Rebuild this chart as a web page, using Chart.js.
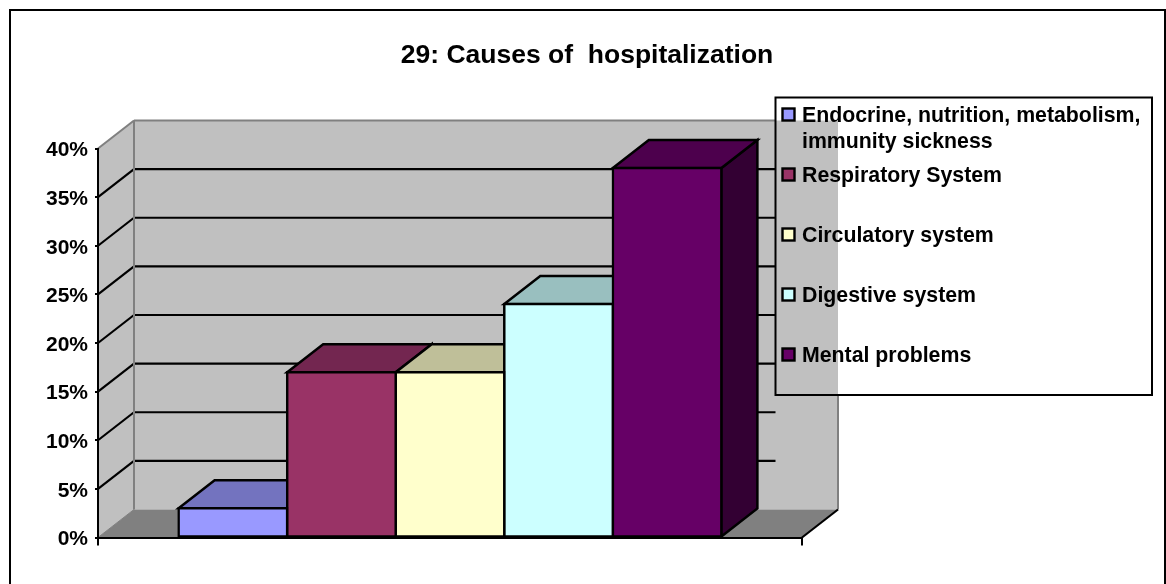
<!DOCTYPE html>
<html><head><meta charset="utf-8">
<style>html,body{margin:0;padding:0;background:#fff}#w{position:relative;width:1166px;height:584px;overflow:hidden}</style>
<script src="https://cdn.jsdelivr.net/npm/chart.js@4"></script>
</head><body><div id="w"><canvas id="c" width="1166" height="584"></canvas></div>
<script>
const chartTitle = '29: Causes of  hospitalization';
const categories = [''];
const seriesNames = ['Endocrine, nutrition, metabolism, immunity sickness','Respiratory System','Circulatory system','Digestive system','Mental problems'];
const seriesValues = [3, 17, 17, 24, 38];
const seriesColors = ['#9999FF','#993366','#FFFFCC','#CCFFFF','#660066'];
const topColors = ['#7373BF','#732650','#BFBF99','#99BFBF','#4D004D'];
const sideColors = ['#4D4D80','#4D1A33','#808066','#668080','#330033'];
const yTicks = [0,5,10,15,20,25,30,35,40];

const DX = 36, DY = -28;
const FONT = 'bold 21.3px "Liberation Sans", Arial, sans-serif';
const LEG = {l:775.5, t:97.5, r:1152, b:395, swatchX:782.5, textX:802, rows:[114.5,174.5,234.5,294.5,354.5]};

function poly(ctx, pts, fill, stroke, lw){
  ctx.beginPath(); pts.forEach((p,i)=> i?ctx.lineTo(p[0],p[1]):ctx.moveTo(p[0],p[1])); ctx.closePath();
  if(fill){ctx.fillStyle=fill;ctx.fill();}
  if(stroke){ctx.strokeStyle=stroke;ctx.lineWidth=lw;ctx.lineJoin='miter';ctx.stroke();}
}
function line(ctx,x1,y1,x2,y2,c,w){ctx.beginPath();ctx.moveTo(x1,y1);ctx.lineTo(x2,y2);ctx.strokeStyle=c;ctx.lineWidth=w;ctx.stroke();}

const scene = {
  id:'scene',
  afterLayout(chart){ chart.titleBlock.left = 8; chart.titleBlock.right = 1166; },
  beforeDraw(chart){
    const ctx = chart.ctx, a = chart.chartArea, y = chart.scales.y;
    const L=a.left, R=a.right, B=y.getPixelForValue(0), T=y.getPixelForValue(40);
    ctx.save();
    ctx.fillStyle='#fff'; ctx.fillRect(0,0,1166,584);
    ctx.strokeStyle='#000'; ctx.lineWidth=2; ctx.strokeRect(10,10,1155,600);
    poly(ctx,[[L,B],[L+DX,B+DY],[L+DX,T+DY],[L,T]],'#C0C0C0');
    poly(ctx,[[L+DX,B+DY],[R+DX,B+DY],[R+DX,T+DY],[L+DX,T+DY]],'#C0C0C0');
    poly(ctx,[[L,B],[R,B],[R+DX,B+DY],[L+DX,B+DY]],'#808080');
    yTicks.forEach(v=>{
      if(v===0) return;
      const p=y.getPixelForValue(v);
      if(v<40){
        line(ctx,L+DX,p+DY,Math.min(R+DX,LEG.l),p+DY,'#000',2.2);
        line(ctx,L,p,L+DX,p+DY,'#000',2.2);
      }
    });
    line(ctx,L,T,L+DX,T+DY,'#808080',2);
    line(ctx,L+DX,T+DY,LEG.l,T+DY,'#808080',2);
    line(ctx,L+DX,T+DY,L+DX,B+DY,'#808080',2);
    line(ctx,R+DX,LEG.b,R+DX,B+DY,'#808080',2);
    line(ctx,L,B,L+DX,B+DY,'#808080',1);
    line(ctx,R,B,R+DX,B+DY,'#000',2.2);
    ctx.restore();
  },
  beforeDatasetsDraw(chart){
    const ctx = chart.ctx;
    ctx.save();
    chart.data.datasets.forEach((d,i)=>{
      const el = chart.getDatasetMeta(i).data[0];
      const l=el.x-el.width/2, r=el.x+el.width/2, t=el.y, b=el.base;
      poly(ctx,[[r,b],[r+DX,b+DY],[r+DX,t+DY],[r,t]],sideColors[i],'#000',2.5);
      poly(ctx,[[l,t],[r,t],[r+DX,t+DY],[l+DX,t+DY]],topColors[i],'#000',2.5);
    });
    ctx.restore();
  },
  afterDraw(chart){
    const ctx = chart.ctx;
    ctx.save();
    ctx.strokeStyle='#000'; ctx.lineWidth=2;
    ctx.strokeRect(LEG.l,LEG.t,LEG.r-LEG.l,LEG.b-LEG.t);
    ctx.font=FONT; ctx.textBaseline='middle'; ctx.textAlign='left';
    chart.data.datasets.forEach((d,i)=>{
      const cy=LEG.rows[i];
      ctx.fillStyle=seriesColors[i]; ctx.fillRect(LEG.swatchX,cy-6,12,12);
      ctx.lineWidth=2.4; ctx.strokeRect(LEG.swatchX,cy-6,12,12);
      ctx.fillStyle='#000';
      const words=d.label.split(' '); let ln='', yy=cy+2;
      words.forEach(w=>{
        const t=ln?ln+' '+w:w;
        if(ctx.measureText(t).width>LEG.r-LEG.textX-4 && ln){ctx.fillText(ln,LEG.textX,yy);yy+=26;ln=w;}
        else ln=t;
      });
      ctx.fillText(ln,LEG.textX,yy);
    });
    ctx.restore();
  }
};

new Chart(document.getElementById('c'),{
  type:'bar',
  data:{labels:categories,datasets:seriesNames.map((n,i)=>({
    label:n,data:[seriesValues[i]],backgroundColor:seriesColors[i],borderColor:'#000',borderWidth:2.5,
    borderSkipped:false,inflateAmount:1.25,barPercentage:1,categoryPercentage:0.771
  }))},
  plugins:[scene],
  options:{
    responsive:false,animation:false,
    layout:{padding:{left:0,right:364,top:0,bottom:0}},
    plugins:{
      legend:{display:false},tooltip:{enabled:false},
      title:{display:true,text:chartTitle,color:'#000',align:'center',
        font:{family:'"Liberation Sans", Arial, sans-serif',size:26.5,weight:'bold',lineHeight:1.2},
        padding:{top:40,bottom:76.7}}
    },
    scales:{
      x:{offset:true,grid:{offset:true,drawOnChartArea:false,drawTicks:true,tickLength:8,color:'#000',lineWidth:2},
        border:{display:true,color:'#000',width:2},ticks:{display:false},
        afterFit(s){s.height=584-537.5;}},
      y:{min:0,max:40,
        afterBuildTicks(s){s.ticks=yTicks.map(v=>({value:v}));},
        grid:{drawOnChartArea:false,drawTicks:true,tickLength:3,color:'#000',lineWidth:2},
        border:{display:true,color:'#000',width:2},
        ticks:{color:'#000',padding:7,labelOffset:2,font:{family:'"Liberation Sans", Arial, sans-serif',size:21,weight:'bold'},callback:v=>v+'%'},
        afterFit(s){s.width=98;}}
    }
  }
});
</script></body></html>
